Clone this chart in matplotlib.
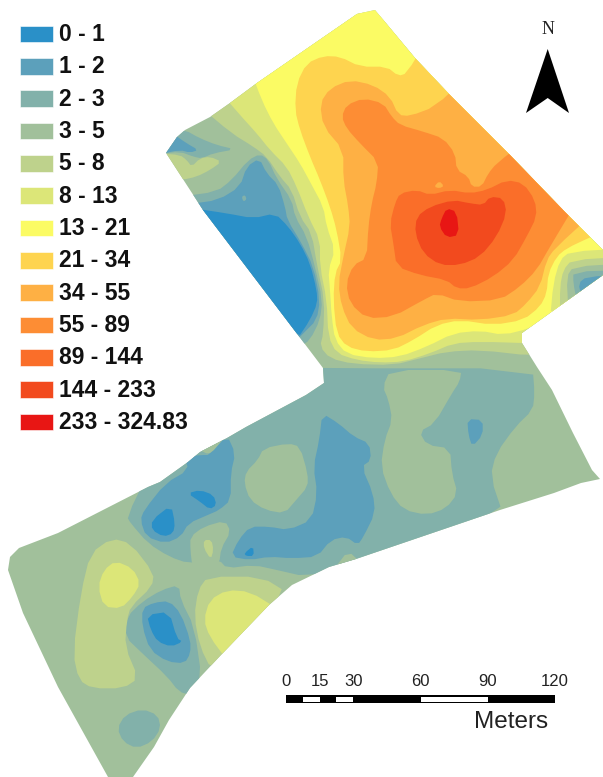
import matplotlib
matplotlib.use("Agg")
import matplotlib.pyplot as plt
from matplotlib.patches import Polygon, Rectangle
import numpy as np

plt.rcParams['font.family'] = ['Liberation Sans', 'DejaVu Sans']

labels = ["0 - 1", "1 - 2", "2 - 3", "3 - 5", "5 - 8", "8 - 13", "13 - 21", "21 - 34",
          "34 - 55", "55 - 89", "89 - 144", "144 - 233", "233 - 324.83"]
colors = ["#2a90c8", "#5ca0bb", "#82b1aa", "#a1c09b", "#bed28c", "#dce678", "#fbfb64",
          "#fed44f", "#feb044", "#fd8d34", "#fa6e29", "#f24a1e", "#e81614"]
scale_ticks = [0, 15, 30, 60, 90, 120]

# site outline, in image pixels
site = [(375, 10), (357, 14), (257, 83), (230, 103), (210, 117), (185, 130), (177, 137), (166, 153),
        (203, 210), (298, 335), (323, 368), (324, 383), (306, 395), (246, 427), (227, 438), (200, 452),
        (188, 462), (160, 482), (148, 487), (58, 533), (19, 548), (10, 557), (8, 570), (23, 613),
        (58, 687), (108, 777), (133, 777), (154, 747), (169, 720), (190, 688), (221, 655), (269, 605),
        (292, 585), (329, 567), (356, 559), (500, 510), (554, 493), (581, 483), (600, 479), (592, 470),
        (573, 433), (552, 390), (537, 367), (522, 343), (522, 333), (603, 275), (603, 250), (590, 237),
        (565, 212), (510, 155), (450, 95), (415, 58)]

top_low2_a = [(75, 390), (120, 415), (170, 435), (225, 448), (160, 460), (125, 475), (100, 470), (60, 455), (0, 462), (30, 390)]
top_low1_a = [(30, 395), (80, 430), (115, 450), (90, 458), (60, 450), (0, 462)]
top_mid4_a = [(0, 460), (60, 465), (80, 480), (95, 500), (120, 475), (150, 470), (185, 485), (150, 510), (110, 530), (65, 540), (30, 530)]
top_low2_b = [(60, 590), (170, 575), (215, 540), (265, 480), (300, 462), (325, 480), (350, 535), (395, 600), (405, 650),
              (440, 710), (465, 800), (487, 900), (480, 960), (450, 1020), (420, 1040), (300, 900)]
top_low1_b = [(90, 612), (175, 600), (240, 560), (260, 500), (298, 475), (320, 520), (355, 555), (375, 620), (382, 660),
              (425, 730), (460, 800), (480, 900), (470, 960), (430, 1000), (400, 1030), (300, 900)]
top_low0 = [(100, 625), (200, 640), (280, 655), (345, 640), (385, 680), (420, 730), (450, 790), (470, 870),
            (472, 910), (450, 960), (410, 1020), (300, 900)]
top_spot2 = [(245, 590), (255, 585), (260, 598), (250, 605)]

top_high4 = [(120, 320), (215, 400), (280, 440), (320, 470), (360, 530), (395, 570), (420, 650), (455, 700), (472, 800),
             (493, 900), (490, 1000), (480, 1040), (510, 1075), (580, 1092), (700, 1095), (780, 1075), (860, 1055),
             (960, 1050), (1120, 1068), (1450, 1060), (1450, 650), (650, -80)]
top_high5 = [(180, 275), (240, 345), (290, 400), (330, 450), (380, 500), (410, 560), (445, 650), (480, 720), (480, 800),
             (500, 900), (505, 1010), (530, 1060), (590, 1080), (660, 1088), (730, 1085), (810, 1060), (880, 1030),
             (960, 1025), (1120, 1030), (1450, 1000), (1450, 650), (650, -80)]
top_high6 = [(270, 205), (305, 300), (340, 370), (380, 430), (420, 490), (450, 545), (490, 620), (500, 680), (525, 750),
             (505, 810), (510, 870), (515, 950), (525, 1020), (560, 1062), (640, 1075), (720, 1070), (800, 1040),
             (880, 1000), (960, 992), (1030, 1005), (1110, 985), (1450, 850), (1450, 650), (650, -80)]
top_high7 = [(1340, 690), (1290, 712), (1220, 745), (1190, 770), (1165, 820), (1160, 880), (1140, 920), (1090, 960), (1000, 975),
             (900, 960), (830, 975), (760, 1020), (700, 1050), (620, 1055), (560, 1040), (530, 1000), (520, 900),
             (525, 820), (545, 780), (530, 690), (510, 620), (480, 540), (450, 470), (420, 390), (405, 330), (410, 250),
             (440, 190), (490, 168), (540, 170), (600, 200), (680, 200), (715, 228), (740, 220), (800, 120), (1500, 500)]
top_high8 = [(920, 230), (825, 320), (750, 348), (715, 345), (690, 290), (640, 255), (570, 240), (510, 265), (480, 310),
             (490, 380), (550, 450), (550, 540), (565, 620), (570, 680), (550, 770), (535, 850), (545, 920), (575, 985),
             (640, 1020), (710, 1015), (790, 975), (860, 955), (960, 960), (1060, 945), (1100, 910), (1140, 860),
             (1160, 780), (1185, 745), (1300, 640), (1400, 500)]
top_high9 = [(1100, 420), (1010, 490), (985, 520), (965, 560), (935, 560), (925, 530), (890, 510), (885, 460), (850, 415),
             (790, 395), (720, 375), (695, 350), (670, 310), (610, 295), (560, 315), (545, 350), (560, 385), (600, 430),
             (655, 485), (650, 550), (635, 610), (625, 680), (620, 775), (580, 795), (558, 850), (570, 910), (620, 955),
             (700, 950), (790, 900), (830, 880), (900, 905), (1020, 900), (1080, 860), (1130, 810), (1170, 740),
             (1260, 590), (1300, 500)]
top_spot8 = [(822, 560), (838, 543), (852, 558), (838, 565)]
top_high10 = [(720, 580), (770, 570), (810, 585), (870, 570), (930, 580), (980, 570), (1040, 540), (1090, 550), (1125, 600),
              (1130, 650), (1100, 710), (1060, 780), (1000, 830), (930, 865), (890, 865), (860, 840), (780, 825),
              (710, 800), (700, 730), (690, 670), (705, 610)]
top_high11 = [(770, 650), (810, 620), (880, 600), (930, 610), (970, 615), (990, 590), (1030, 595), (1040, 640), (1010, 710),
              (960, 770), (900, 795), (840, 795), (790, 760), (765, 700)]
top_high12 = [(860, 625), (890, 635), (897, 705), (860, 713), (838, 680), (845, 655)]

east5 = [(1400, 745), (1230, 755), (1200, 780), (1180, 850), (1170, 960), (1400, 900)]
east4 = [(1400, 770), (1235, 780), (1210, 810), (1200, 860), (1200, 950), (1400, 900)]
east3 = [(1400, 790), (1240, 800), (1220, 830), (1225, 930), (1400, 900)]
east2 = [(1400, 810), (1240, 815), (1240, 850), (1250, 900), (1400, 900)]
east1 = [(1400, 825), (1280, 830), (1255, 850), (1265, 890), (1400, 860)]

low2_main = [(843, 25), (1385, 25), (1390, 100), (1385, 150), (1340, 200), (1290, 280), (1275, 350), (1310, 470), (925, 620),
             (795, 650), (720, 630), (660, 615), (590, 625), (570, 600), (530, 600), (490, 610), (440, 590), (385, 550),
             (340, 490), (330, 470), (385, 340), (600, 150), (800, 20)]
low3_a = [(1015, 30), (1200, 30), (1195, 65), (1175, 100), (1130, 190), (1090, 215), (1110, 255), (1170, 265), (1175, 340),
          (1190, 400), (1160, 445), (1110, 465), (1050, 450), (1015, 400), (990, 320), (1000, 240), (1020, 180), (1010, 120), (995, 80)]
low3_b = [(750, 250), (780, 260), (800, 340), (800, 380), (770, 420), (740, 460), (690, 450), (650, 420), (635, 370),
          (640, 335), (670, 300), (685, 265)]
low3_c = [(495, 530), (530, 500), (585, 482), (600, 515), (575, 565), (570, 610), (550, 630), (500, 620), (495, 570)]
low3_d = [(870, 625), (905, 572), (940, 610)]
low3_e = [(510, 265), (585, 225), (575, 265), (545, 285)]
low2_circle = [(305, 1105), (325, 1065), (370, 1047), (410, 1065), (418, 1105), (395, 1145), (355, 1165), (320, 1145)]
low2_south = [(420, 690), (465, 675), (470, 720), (505, 800), (525, 960), (495, 1005), (465, 995), (435, 950), (370, 880),
              (325, 830), (330, 770), (370, 725)]
low4_west = [(290, 535), (340, 550), (400, 640), (395, 680), (340, 740), (330, 780), (325, 860), (360, 955), (320, 985),
             (240, 985), (205, 960), (190, 880), (210, 700), (235, 580)]
low5_west = [(300, 603), (345, 625), (365, 670), (345, 710), (315, 745), (270, 740), (255, 680), (270, 630)]
low4_east = [(540, 650), (680, 650), (750, 700), (590, 900), (550, 930), (520, 860), (505, 770), (515, 690)]
low5_east = [(590, 690), (650, 695), (720, 745), (590, 900), (545, 830), (530, 780), (545, 720)]
low4_spot = [(530, 540), (550, 540), (555, 570), (548, 598), (530, 565)]
low1_a = [(480, 290), (525, 285), (545, 285), (590, 225), (612, 280), (600, 340), (600, 420), (570, 450), (540, 465), (490, 490),
          (470, 530), (430, 550), (380, 530), (365, 480), (375, 450), (430, 370), (490, 330)]
low1_b = [(838, 160), (880, 190), (920, 230), (960, 250), (965, 300), (940, 320), (970, 400), (975, 460), (945, 530), (930, 555),
          (900, 530), (860, 540), (825, 590), (760, 595), (700, 590), (650, 600), (600, 590), (620, 540), (650, 500),
          (700, 500), (750, 510), (810, 480), (825, 400), (815, 320), (830, 240)]
low1_c = [(1215, 177), (1255, 180), (1255, 225), (1228, 260), (1218, 225)]
low1_d = [(440, 723), (470, 760), (495, 840), (495, 880), (480, 910), (435, 905), (390, 870), (370, 800), (370, 745), (400, 728)]
low0_a = [(395, 480), (445, 435), (455, 490), (450, 520), (425, 530), (395, 510)]
low0_b = [(488, 400), (520, 390), (555, 405), (563, 435), (545, 448), (520, 425)]
low0_c = [(635, 580), (658, 558), (660, 588), (640, 588)]
low0_d = [(382, 765), (440, 755), (460, 835), (475, 845), (445, 860), (410, 845), (392, 810)]

north_arrow = [(547.7, 49), (569, 113), (547.7, 98), (526, 113)]


def top_px(pts):
    p = np.array(pts, float)
    return np.column_stack([p[:, 0] / 3 + 160, p[:, 1] / 3])


def low_px(pts):
    p = np.array(pts, float)
    return np.column_stack([p[:, 0] / 2.6, p[:, 1] / 3 + 360])


def smooth(p, n=1):
    # corner cutting so the contours don't look polygonal
    for _ in range(n):
        q = np.roll(p, -1, axis=0)
        p = np.column_stack([0.75 * p + 0.25 * q, 0.25 * p + 0.75 * q]).reshape(-1, 2)
    return p


fig = plt.figure(figsize=(6.03, 7.77), dpi=100)
ax = fig.add_axes([0, 0, 1, 1])
ax.set_xlim(0, 603)
ax.set_ylim(777, 0)
ax.axis("off")

outline = Polygon(site, closed=True, fc=colors[3], ec="none", zorder=1)
ax.add_patch(outline)

layers = [
    (2, low_px(low2_main)), (3, low_px(low3_a)), (3, low_px(low3_b)), (3, low_px(low3_c)), (3, low_px(low3_d)),
    (3, low_px(low3_e)), (2, low_px(low2_circle)), (2, low_px(low2_south)),
    (1, low_px(low1_a)), (1, low_px(low1_b)), (1, low_px(low1_c)), (1, low_px(low1_d)),
    (0, low_px(low0_a)), (0, low_px(low0_b)), (0, low_px(low0_c)), (0, low_px(low0_d)),
    (4, low_px(low4_west)), (5, low_px(low5_west)), (4, low_px(low4_east)), (5, low_px(low5_east)), (4, low_px(low4_spot)),
    (2, top_px(top_low2_a)), (1, top_px(top_low1_a)), (4, top_px(top_mid4_a)),
    (2, top_px(top_low2_b)), (1, top_px(top_low1_b)), (0, top_px(top_low0)), (2, top_px(top_spot2)),
    (4, top_px(top_high4)), (5, top_px(top_high5)), (6, top_px(top_high6)), (7, top_px(top_high7)),
    (8, top_px(top_high8)), (9, top_px(top_high9)), (8, top_px(top_spot8)), (10, top_px(top_high10)),
    (11, top_px(top_high11)), (12, top_px(top_high12)),
    (5, top_px(east5)), (4, top_px(east4)), (3, top_px(east3)), (2, top_px(east2)), (1, top_px(east1)),
]
for i, (cls, pts) in enumerate(layers):
    patch = Polygon(smooth(pts), closed=True, fc=colors[cls], ec="none", zorder=2 + i * 0.01)
    ax.add_patch(patch)
    patch.set_clip_path(outline)

# legend
for i, (lab, col) in enumerate(zip(labels, colors)):
    yc = 34 + i * 32.33
    ax.add_patch(Rectangle((19.5, yc - 8.3), 33, 16.6, fc=col, ec="white", lw=0.4, zorder=5))
    ax.text(59, yc + 0.5, lab, fontsize=16.5, fontweight="bold", va="center", ha="left", color="#111111", zorder=5)

# north arrow
ax.text(548, 30, "N", family="Liberation Serif", fontsize=13, ha="center", va="center", color="#222222")
ax.add_patch(Polygon(north_arrow, closed=True, fc="black", ec="none", zorder=5))

# scale bar
x0, x1 = 286, 555
sx = lambda v: x0 + (x1 - x0) * v / 120
ax.add_patch(Rectangle((x0, 695), x1 - x0, 7.7, fc="black", ec="none", zorder=5))
for a, b in [(7.5, 15), (22.5, 30), (60, 90)]:
    ax.add_patch(Rectangle((sx(a), 696.5), sx(b) - sx(a), 5, fc="white", ec="none", zorder=6))
for t in scale_ticks:
    ax.text(sx(t), 682, str(t), fontsize=12, ha="center", va="center", color="#222222")
ax.text(511, 722, "Meters", fontsize=17.5, ha="center", va="center", color="#222222")

fig.savefig("out.png", dpi=100)
